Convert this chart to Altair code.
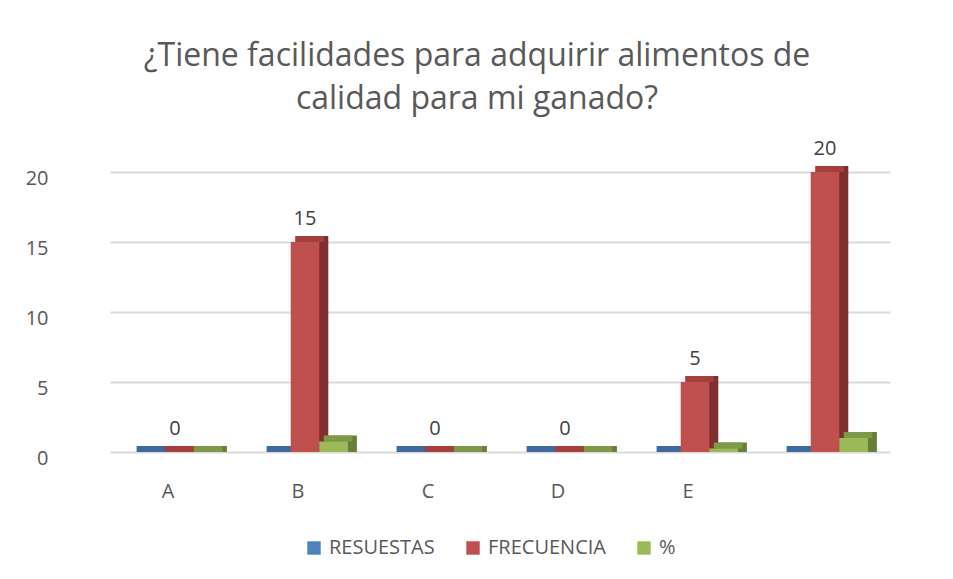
import altair as alt
import pandas as pd

categories = ["A", "B", "C", "D", "E", " "]
series_names = ["RESUESTAS", "FRECUENCIA", "%"]
resuestas = [0, 0, 0, 0, 0, 0]
frecuencia = [0, 15, 0, 0, 5, 20]
porcentaje = [0, 0.75, 0, 0, 0.25, 1]
front_colors = ["#4F81BD", "#C0504D", "#9BBB59"]
top_colors = ["#3E6A9E", "#A3403D", "#7E9A48"]
side_colors = ["#34567F", "#7F302E", "#687F3A"]

rows = []
for i, c in enumerate(categories):
    for s, vals in zip(series_names, [resuestas, frecuencia, porcentaje]):
        rows.append({"cat": c, "serie": s, "valor": vals[i]})
df = pd.DataFrame(rows)

FONT = "Open Sans"
GREY = "#595959"
BAND = 85.8   # pixel width of one category group
DEPTH_X = 9
DEPTH_Y = 6

x_enc = alt.X("cat:N", sort=categories, title=None,
              scale=alt.Scale(paddingInner=0.34, paddingOuter=0.17),
              axis=alt.Axis(labelAngle=0, labelFontSize=20, labelColor=GREY,
                            labelFont=FONT, labelPadding=29, domain=False,
                            ticks=False, grid=False, labelOffset=-7))
y_enc = alt.Y("valor:Q", title=None,
              scale=alt.Scale(domain=[0, 20]),
              axis=alt.Axis(values=[0, 5, 10, 15, 20], labelFontSize=20,
                            labelColor=GREY, labelFont=FONT, labelPadding=62,
                            labelOffset=6,
                            domain=False, ticks=False, gridColor="#D9D9D9",
                            gridWidth=2))

base = alt.Chart(df)

side = base.mark_bar(yOffset=-DEPTH_Y).encode(
    x=x_enc,
    xOffset=alt.XOffset("serie:N", sort=series_names,
                        scale=alt.Scale(range=[DEPTH_X, BAND + DEPTH_X])),
    y=y_enc,
    y2=alt.Y2(datum=0),
    color=alt.Color("serie:N", sort=series_names,
                    scale=alt.Scale(domain=series_names, range=side_colors),
                    legend=None),
)

top = base.mark_bar(yOffset=-DEPTH_Y).encode(
    x=x_enc,
    xOffset=alt.XOffset("serie:N", sort=series_names,
                        scale=alt.Scale(range=[DEPTH_X / 2, BAND + DEPTH_X / 2])),
    y=y_enc,
    y2=alt.Y2("valor:Q"),
    color=alt.Color("serie:N", sort=series_names,
                    scale=alt.Scale(domain=series_names, range=top_colors),
                    legend=None),
)

front = base.mark_bar().encode(
    x=x_enc,
    xOffset=alt.XOffset("serie:N", sort=series_names,
                        scale=alt.Scale(range=[0, BAND])),
    y=y_enc,
    color=alt.Color("serie:N", sort=series_names,
                    scale=alt.Scale(domain=series_names, range=front_colors),
                    legend=alt.Legend(title=None, orient="none",
                                      legendX=194, legendY=366,
                                      direction="horizontal",
                                      symbolType="square", symbolSize=180,
                                      symbolStrokeWidth=0,
                                      labelFontSize=20, labelColor=GREY,
                                      labelFont=FONT, columnPadding=28,
                                      labelOffset=5)),
)

labels = base.transform_filter(alt.datum.serie == "FRECUENCIA").mark_text(
    baseline="bottom", dy=-13, fontSize=20, font=FONT, color="#404040"
).encode(
    x=x_enc,
    xOffset=alt.XOffset("serie:N", sort=series_names,
                        scale=alt.Scale(domain=series_names, range=[0, BAND])),
    y=y_enc, text=alt.Text("valor:Q"),
)

chart = alt.layer(side, top, front, labels).resolve_scale(
    color="independent", xOffset="independent"
).properties(
    width=780, height=280,
    title=alt.TitleParams(
        ["¿Tiene facilidades para adquirir alimentos de",
         "calidad para mi ganado?"],
        fontSize=32, font=FONT, color=GREY, fontWeight="normal",
        anchor="middle", baseline="bottom", lineHeight=43, offset=58,
        dx=-23, dy=67,
    ),
    autosize=alt.AutoSizeParams(type="none"),
    padding={"left": 102, "top": 164, "right": 50, "bottom": 115},
    background="white",
).configure_view(stroke=None)

chart.save("out.html", embed_options={"renderer": "svg", "actions": False})
